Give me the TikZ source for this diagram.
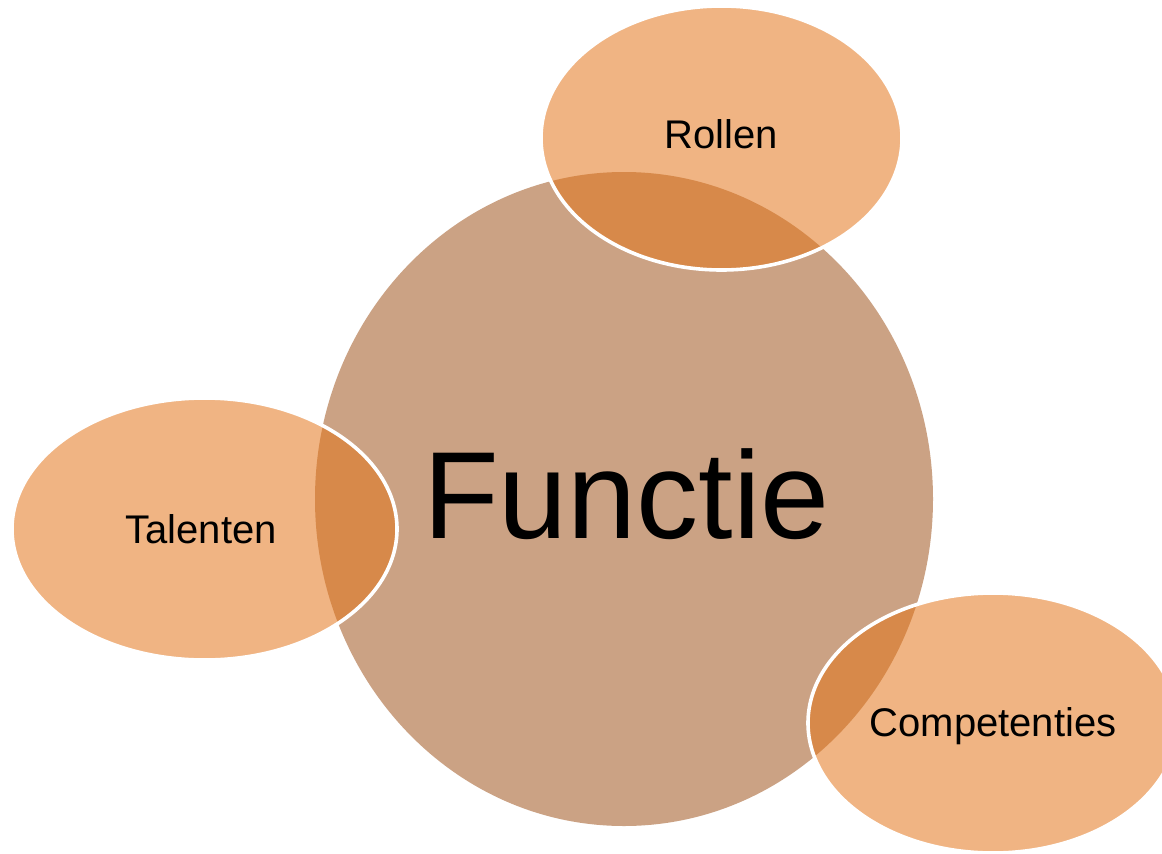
\documentclass[tikz,border=0pt]{standalone}
\usepackage{fontspec}
\setmainfont{Liberation Sans}
\definecolor{circfill}{HTML}{CBA284}
\definecolor{ellfill}{HTML}{F0B483}
\definecolor{ovlfill}{HTML}{D7894A}
\tikzset{
  bigtext/.style={anchor=base, inner sep=0pt, font=\fontsize{124}{124}\selectfont},
  smalltext/.style={anchor=base, inner sep=0pt, font=\fontsize{40}{40}\selectfont},
  rim/.style={draw=white, line width=3.6pt}
}
\begin{document}
\begin{tikzpicture}[x=1pt,y=-1pt]
\useasboundingbox (0,0) rectangle (1162,854);
\fill[white] (0,0) rectangle (1162,854);
% central shape
\fill[circfill] (624,499) ellipse [x radius=309pt, y radius=327pt];
% satellite ellipses
\fill[ellfill] (721.5,138) ellipse [x radius=180.5pt, y radius=132pt];
\fill[ellfill] (204.5,529) ellipse [x radius=192.5pt, y radius=131pt];
\fill[ellfill] (993,723) ellipse [x radius=185pt, y radius=130pt];
% overlaps
\begin{scope}
  \clip (624,499) ellipse [x radius=309pt, y radius=327pt];
  \fill[ovlfill] (721.5,138) ellipse [x radius=180.5pt, y radius=132pt];
  \fill[ovlfill] (204.5,529) ellipse [x radius=192.5pt, y radius=131pt];
  \fill[ovlfill] (993,723) ellipse [x radius=185pt, y radius=130pt];
\end{scope}
% white rims
\draw[rim] (721.5,138) ellipse [x radius=180.5pt, y radius=132pt];
\draw[rim] (204.5,529) ellipse [x radius=192.5pt, y radius=131pt];
\draw[rim] (993,723) ellipse [x radius=185pt, y radius=130pt];
% labels
\node[bigtext] (functie) at (626.5,538) {Functie};
\node[smalltext] (rollen) at (721.5,148) {Rollen};
\node[smalltext] (talenten) at (201,543) {Talenten};
\node[smalltext] (competenties) at (993,736) {Competenties};
\end{tikzpicture}
\end{document}
